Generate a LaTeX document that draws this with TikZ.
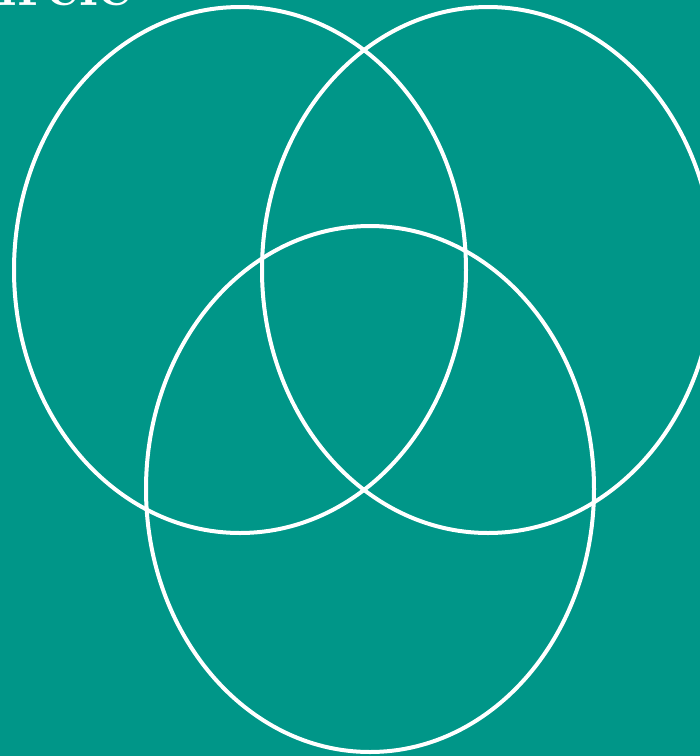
\documentclass[tikz,border=0pt]{standalone}
\definecolor{teal}{RGB}{0,150,136}
\begin{document}
\begin{tikzpicture}[x=1pt,y=-1pt,ring/.style={draw=white,line width=4pt}]
\useasboundingbox (0,0) rectangle (700,756);
\clip (0,0) rectangle (700,756);
\fill[teal] (0,0) rectangle (700,756);
\node[anchor=base west,text=white,font=\bfseries\fontsize{64}{64}\selectfont,inner sep=0pt] (title) at (-55,5) {Circle};
\draw[ring] (240,270) ellipse [x radius=226,y radius=263];
\draw[ring] (488,270) ellipse [x radius=226,y radius=263];
\draw[ring] (370,489) ellipse [x radius=224,y radius=263];
\end{tikzpicture}
\end{document}
